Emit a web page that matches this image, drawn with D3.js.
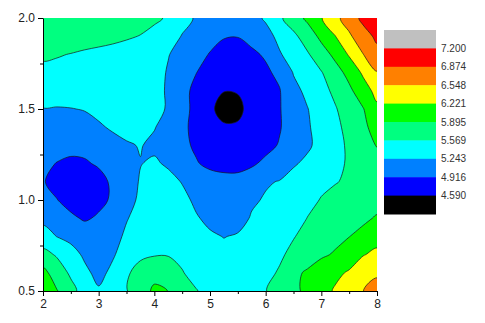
<!DOCTYPE html>
<html>
<head>
<meta charset="utf-8">
<script src="https://cdn.jsdelivr.net/npm/d3@7"></script>
<style>
  body { margin: 0; background: #fff; }
  text { font-family: Arial, "Liberation Sans", sans-serif; }
</style>
</head>
<body>
<svg id="chart" width="485" height="323"></svg>
<script>
// grid positions of the measured values
var xValues = [2, 2.25, 2.5, 2.75, 3, 3.25, 3.5, 3.75, 4, 4.25, 4.5, 4.75, 5,
               5.25, 5.5, 5.75, 6, 6.25, 6.5, 6.75, 7, 7.25, 7.5, 7.75, 8];
// rows from top (y = 2.0) to bottom (y = 0.5)
var yValues = [2.0, 1.9, 1.8, 1.7, 1.6, 1.5, 1.4, 1.3, 1.2, 1.1, 1.0, 0.9, 0.8, 0.7, 0.6, 0.5];

var zRows = [
  [5.830, 5.797, 5.765, 5.732, 5.699, 5.683, 5.667, 5.650, 5.618, 5.536, 5.357, 5.210, 5.112, 5.047, 5.030, 5.112, 5.291, 5.520, 5.732, 5.960, 6.205, 6.466, 6.694, 6.955, 7.167],
  [5.732, 5.716, 5.693, 5.667, 5.641, 5.618, 5.595, 5.562, 5.487, 5.406, 5.226, 5.112, 5.014, 4.933, 4.923, 4.998, 5.112, 5.340, 5.504, 5.716, 5.977, 6.215, 6.499, 6.743, 6.939],
  [5.618, 5.585, 5.562, 5.536, 5.520, 5.504, 5.471, 5.438, 5.406, 5.259, 5.112, 5.014, 4.900, 4.818, 4.818, 4.867, 4.949, 5.210, 5.406, 5.536, 5.748, 5.977, 6.254, 6.541, 6.776],
  [5.487, 5.504, 5.504, 5.504, 5.504, 5.487, 5.471, 5.438, 5.389, 5.210, 5.047, 4.923, 4.786, 4.704, 4.704, 4.753, 4.867, 4.982, 5.259, 5.406, 5.552, 5.765, 5.993, 6.270, 6.531],
  [5.357, 5.373, 5.406, 5.438, 5.471, 5.487, 5.487, 5.471, 5.373, 5.194, 5.014, 4.835, 4.688, 4.597, 4.606, 4.704, 4.786, 4.900, 5.161, 5.308, 5.471, 5.634, 5.830, 6.074, 6.319],
  [5.233, 5.226, 5.233, 5.259, 5.340, 5.389, 5.422, 5.438, 5.389, 5.194, 5.014, 4.835, 4.639, 4.492, 4.525, 4.688, 4.802, 4.900, 5.063, 5.233, 5.389, 5.546, 5.716, 5.879, 6.156],
  [5.128, 5.112, 5.112, 5.128, 5.194, 5.291, 5.340, 5.340, 5.259, 5.112, 4.965, 4.851, 4.688, 4.623, 4.623, 4.721, 4.818, 4.900, 5.030, 5.210, 5.357, 5.504, 5.650, 5.813, 6.042],
  [5.030, 4.982, 4.965, 4.998, 5.063, 5.112, 5.210, 5.259, 5.177, 5.063, 4.965, 4.884, 4.753, 4.704, 4.704, 4.753, 4.851, 4.933, 5.047, 5.194, 5.340, 5.471, 5.618, 5.765, 5.911],
  [4.955, 4.910, 4.884, 4.884, 4.949, 5.014, 5.112, 5.233, 5.291, 5.194, 5.079, 4.933, 4.867, 4.851, 4.851, 4.884, 4.965, 5.063, 5.210, 5.308, 5.406, 5.504, 5.601, 5.683, 5.748],
  [4.933, 4.835, 4.737, 4.737, 4.818, 4.965, 5.063, 5.275, 5.389, 5.357, 5.226, 5.096, 5.014, 4.982, 4.982, 5.047, 5.210, 5.259, 5.357, 5.438, 5.504, 5.552, 5.618, 5.667, 5.699],
  [4.998, 4.923, 4.818, 4.802, 4.851, 4.949, 5.079, 5.324, 5.373, 5.389, 5.340, 5.177, 5.063, 5.030, 5.047, 5.194, 5.275, 5.340, 5.406, 5.487, 5.585, 5.667, 5.699, 5.732, 5.765],
  [5.161, 5.047, 4.965, 4.884, 4.949, 5.047, 5.226, 5.340, 5.389, 5.373, 5.340, 5.275, 5.161, 5.112, 5.112, 5.275, 5.340, 5.389, 5.438, 5.575, 5.667, 5.716, 5.765, 5.830, 5.928],
  [5.373, 5.236, 5.161, 5.079, 5.030, 5.145, 5.291, 5.389, 5.438, 5.438, 5.422, 5.357, 5.291, 5.233, 5.275, 5.340, 5.389, 5.455, 5.552, 5.667, 5.732, 5.813, 5.889, 5.993, 6.107],
  [5.667, 5.536, 5.357, 5.194, 5.079, 5.210, 5.373, 5.504, 5.546, 5.552, 5.504, 5.438, 5.373, 5.340, 5.340, 5.389, 5.438, 5.520, 5.650, 5.716, 5.846, 5.928, 6.058, 6.205, 6.287],
  [5.993, 5.732, 5.520, 5.308, 5.161, 5.308, 5.520, 5.699, 5.813, 5.732, 5.585, 5.471, 5.406, 5.373, 5.373, 5.406, 5.487, 5.601, 5.813, 5.944, 6.074, 6.156, 6.254, 6.417, 6.499],
  [6.156, 5.911, 5.667, 5.438, 5.275, 5.406, 5.552, 5.765, 5.944, 5.892, 5.699, 5.585, 5.471, 5.406, 5.406, 5.455, 5.559, 5.699, 5.830, 5.960, 6.107, 6.254, 6.384, 6.544, 6.678]
];

var levels = [4.590, 4.916, 5.243, 5.569, 5.895, 6.221, 6.548, 6.874, 7.200];
var levelLabels = ["4.590", "4.916", "5.243", "5.569", "5.895", "6.221", "6.548", "6.874", "7.200"];
// band below the first level first, band above the last level last
var bandColors = ["#000000", "#0000ff", "#0080ff", "#00ffff", "#00ff80",
                  "#00ff00", "#ffff00", "#ff8000", "#ff0000", "#c0c0c0"];

var xTicks = [2, 3, 4, 5, 6, 7, 8];
var xMinor = [2.5, 3.5, 4.5, 5.5, 6.5, 7.5];
var yTicks = [0.5, 1.0, 1.5, 2.0];
var yMinor = [0.75, 1.25, 1.75];

function draw() {
    var svg = d3.select("svg#chart");

    var left = 43, right = 377, top = 18, bottom = 291;

    var x = d3.scaleLinear().domain([2, 8]).range([left, right]);
    var y = d3.scaleLinear().domain([0.5, 2.0]).range([bottom, top]);

    var nx = xValues.length, ny = yValues.length;

    // d3.contours puts sample i at grid coordinate i + 0.5
    var gridX = d3.scaleLinear().domain([0.5, nx - 0.5])
        .range([x(xValues[0]), x(xValues[nx - 1])]);
    var gridY = d3.scaleLinear().domain([0.5, ny - 0.5])
        .range([y(yValues[0]), y(yValues[ny - 1])]);

    // rounded outline for every ring of a contour
    var ringLine = d3.line().curve(d3.curveCatmullRomClosed.alpha(0.5));
    function contourPath(geom) {
        var d = "";
        geom.coordinates.forEach(function(polygon) {
            polygon.forEach(function(ring) {
                var pts = ring.slice(0, -1).map(function(p) {
                    return [gridX(p[0]), gridY(p[1])];
                });
                d += ringLine(pts);
            });
        });
        return d;
    }

    var values = [];
    zRows.forEach(function(row) { row.forEach(function(v) { values.push(v); }); });

    var contours = d3.contours().size([nx, ny]);

    svg.append("clipPath").attr("id", "plot-clip")
      .append("rect")
        .attr("x", left).attr("y", top)
        .attr("width", right - left).attr("height", bottom - top);

    var plot = svg.append("g").attr("clip-path", "url(#plot-clip)");

    // lowest band fills the whole area
    plot.append("rect")
        .attr("x", left).attr("y", top)
        .attr("width", right - left).attr("height", bottom - top)
        .attr("fill", bandColors[0]);

    plot.selectAll("path.band")
        .data(levels)
      .enter().append("path")
        .attr("class", "band")
        .attr("d", function(lvl) { return contourPath(contours.contour(values, lvl)); })
        .attr("fill", function(d, i) { return bandColors[i + 1]; })
        .attr("fill-rule", "evenodd")
        .attr("stroke", "#1a1a1a")
        .attr("stroke-width", 0.7)
        .attr("stroke-linejoin", "round");

    // axes
    svg.append("g")
        .attr("transform", "translate(0," + bottom + ")")
        .call(d3.axisBottom(x).tickValues(xTicks).tickFormat(d3.format("d"))
              .tickSize(5).tickSizeOuter(0).tickPadding(3));
    svg.append("g")
        .attr("transform", "translate(0," + bottom + ")")
        .call(d3.axisBottom(x).tickValues(xMinor).tickFormat("").tickSize(3).tickSizeOuter(0))
        .select(".domain").remove();

    svg.append("g")
        .attr("transform", "translate(" + left + ",0)")
        .call(d3.axisLeft(y).tickValues(yTicks).tickFormat(d3.format(".1f"))
              .tickSize(5).tickSizeOuter(0).tickPadding(3));
    svg.append("g")
        .attr("transform", "translate(" + left + ",0)")
        .call(d3.axisLeft(y).tickValues(yMinor).tickFormat("").tickSize(3).tickSizeOuter(0))
        .select(".domain").remove();

    svg.selectAll(".tick text")
        .style("font-size", "12px")
        .style("font-family", "Arial, 'Liberation Sans', sans-serif")
        .attr("fill", "#222");

    // legend
    var legX = 384, legTop = 30, legW = 52, legH = 184;
    var bandH = legH / bandColors.length;
    var legend = svg.append("g");

    legend.selectAll("rect")
        .data(bandColors.slice().reverse())
      .enter().append("rect")
        .attr("x", legX)
        .attr("y", function(d, i) { return legTop + i * bandH; })
        .attr("width", legW)
        .attr("height", bandH + 0.5)
        .attr("fill", function(d) { return d; });

    legend.selectAll("text")
        .data(levelLabels.slice().reverse())
      .enter().append("text")
        .attr("x", legX + legW + 5)
        .attr("y", function(d, i) { return legTop + (i + 1) * bandH; })
        .attr("dy", "0.35em")
        .style("font-size", "10px")
        .attr("fill", "#333")
        .text(function(d) { return d; });
}

draw();
</script>
</body>
</html>
